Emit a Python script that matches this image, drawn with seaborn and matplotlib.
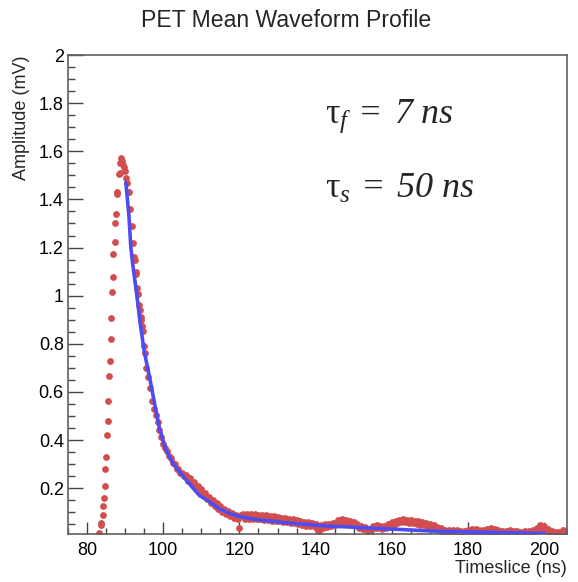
import numpy as np
import pandas as pd
import matplotlib
matplotlib.use("Agg")
import matplotlib.pyplot as plt
import seaborn as sns
from matplotlib.ticker import MultipleLocator, FixedLocator, FixedFormatter

# ---------------- data ----------------
rise_t = [83.16, 83.6, 83.76, 84.13, 84.2, 84.47, 84.74, 84.74, 85.0, 85.26,
          85.53, 85.53, 85.79, 86.05, 86.4, 86.4, 86.66, 86.92, 86.92, 87.29,
          87.45, 87.63, 87.8, 87.97, 88.42, 88.68, 88.76, 89.03, 89.29, 89.55,
          89.82, 90.0, 90.26, 90.6, 90.97, 91.32, 91.76, 92.18, 92.37, 92.55,
          92.82, 92.97, 93.24, 93.42, 93.68, 93.95, 94.13, 94.29, 94.55, 94.82,
          95.0, 95.3, 95.6]
rise_amp = [0.0125, 0.046, 0.054, 0.09, 0.126, 0.161, 0.208, 0.282, 0.329, 0.421,
            0.48, 0.564, 0.665, 0.729, 0.821, 0.908, 1.017, 1.076, 1.172, 1.224,
            1.304, 1.338, 1.421, 1.429, 1.504, 1.55, 1.508, 1.571, 1.56, 1.543,
            1.536, 1.518, 1.49, 1.467, 1.432, 1.362, 1.289, 1.22, 1.16, 1.15,
            1.10, 1.09, 1.03, 1.006, 0.963, 0.942, 0.912, 0.90, 0.875, 0.853,
            0.79, 0.763, 0.70]

# samples every 0.5 ns from 96 ns to 206 ns
tail_start, tail_step = 96.0, 0.5
tail_amp = [
    0.662, 0.618, 0.562, 0.531, 0.503, 0.476, 0.443, 0.414, 0.384, 0.369,
    0.354, 0.333, 0.326, 0.303, 0.299, 0.281, 0.280, 0.264, 0.264, 0.249,
    0.255, 0.231, 0.241, 0.216, 0.227, 0.201, 0.211, 0.186, 0.196, 0.170,
    0.180, 0.154, 0.164, 0.139, 0.150, 0.125, 0.137, 0.113, 0.125, 0.101,
    0.113, 0.092, 0.104, 0.084, 0.096, 0.077, 0.090, 0.072, 0.035, 0.087,
    0.093, 0.073, 0.094, 0.074, 0.092, 0.072, 0.093, 0.073, 0.091, 0.071,
    0.088, 0.068, 0.087, 0.067, 0.085, 0.066, 0.084, 0.064, 0.082, 0.062,
    0.077, 0.059, 0.075, 0.058, 0.073, 0.056, 0.071, 0.054, 0.068, 0.052,
    0.063, 0.047, 0.061, 0.045, 0.058, 0.044, 0.056, 0.042, 0.052, 0.030,
    0.022, 0.048, 0.036, 0.052, 0.040, 0.050, 0.042, 0.055, 0.047, 0.060,
    0.068, 0.054, 0.072, 0.058, 0.070, 0.056, 0.066, 0.052, 0.060, 0.046,
    0.050, 0.036, 0.045, 0.032, 0.040, 0.028, 0.015, 0.030, 0.042, 0.033,
    0.046, 0.034, 0.044, 0.032, 0.045, 0.036, 0.050, 0.040, 0.058, 0.046,
    0.066, 0.054, 0.070, 0.058, 0.072, 0.060, 0.070, 0.057, 0.068, 0.055,
    0.064, 0.050, 0.062, 0.048, 0.060, 0.046, 0.056, 0.042, 0.052, 0.038,
    0.046, 0.032, 0.040, 0.026, 0.034, 0.020, 0.028, 0.016, 0.026, 0.014,
    0.028, 0.016, 0.026, 0.014, 0.024, 0.012, 0.022, 0.014, 0.028, 0.018,
    0.032, 0.018, 0.030, 0.016, 0.028, 0.014, 0.026, 0.016, 0.030, 0.020,
    0.034, 0.018, 0.030, 0.015, 0.026, 0.013, 0.024, 0.012, 0.022, 0.012,
    0.026, 0.014, 0.024, 0.012, 0.022, 0.011, 0.020, 0.012, 0.024, 0.014,
    0.022, 0.013, 0.026, 0.018, 0.036, 0.028, 0.046, 0.034, 0.042, 0.026,
    0.030, 0.016, 0.022, 0.011, 0.018, 0.010, 0.020, 0.012, 0.026, 0.014,
    0.020,
]

fit_t = [90.2, 91.0, 91.5, 92.0, 93.0, 94.0, 95.0, 96.5, 98.0, 99.0,
         100.7, 102.5, 104.2, 106.0, 107.7, 109.5, 112.1, 114.7, 116.5, 118.0,
         120.0, 122.6, 125.0, 128.8, 132.0, 137.5, 142.0, 148.9, 155.0, 162.0,
         167.0, 172.6, 180.0, 188.4, 195.0, 200.0]
fit_amp = [1.47, 1.33, 1.20, 1.13, 1.01, 0.88, 0.77, 0.654, 0.53, 0.45,
           0.36, 0.305, 0.27, 0.235, 0.203, 0.17, 0.145, 0.115, 0.102, 0.092,
           0.083, 0.075, 0.069, 0.063, 0.057, 0.050, 0.044, 0.039, 0.034, 0.029,
           0.025, 0.021, 0.019, 0.016, 0.014, 0.0125]

xtick_vals = [80, 100, 120, 140, 160, 180, 200]
ytick_vals = [0.2, 0.4, 0.6, 0.8, 1.0, 1.2, 1.4, 1.6, 1.8, 2.0]
ytick_labels = ["0.2", "0.4", "0.6", "0.8", "1", "1.2", "1.4", "1.6", "1.8", "2"]

tail_t = tail_start + tail_step * np.arange(len(tail_amp))
pts = pd.DataFrame({"t": np.concatenate([rise_t, tail_t]),
                    "amp": np.concatenate([rise_amp, tail_amp])})
fit = pd.DataFrame({"t": fit_t, "amp": fit_amp})

# ---------------- style ----------------
sns.set_style("ticks")
plt.rcParams["font.family"] = ["Liberation Sans", "DejaVu Sans"]
plt.rcParams["mathtext.fontset"] = "custom"
plt.rcParams["mathtext.rm"] = "Liberation Serif:italic"
plt.rcParams["mathtext.it"] = "Liberation Serif:italic"
plt.rcParams["mathtext.sf"] = "Liberation Serif"

W, H = 578, 582
fig = plt.figure(figsize=(W / 100, H / 100), dpi=100)
L, R, T, B = 68, 567, 55, 534
ax = fig.add_axes([L / W, 1 - B / H, (R - L) / W, (B - T) / H])

sns.scatterplot(data=pts, x="t", y="amp", ax=ax, color="#d24e4e", s=24,
                linewidth=0, zorder=2)
sns.lineplot(data=fit, x="t", y="amp", ax=ax, color="#4c4cf2", lw=2.6,
             zorder=3)

ax.set_xlim(75, 206)
ax.set_ylim(0.01, 2.0)
ax.xaxis.set_major_locator(FixedLocator(xtick_vals))
ax.xaxis.set_minor_locator(MultipleLocator(5))
ax.yaxis.set_major_locator(FixedLocator(ytick_vals))
ax.yaxis.set_major_formatter(FixedFormatter(ytick_labels))
ax.yaxis.set_minor_locator(MultipleLocator(0.05))

ax.set_xlabel("")
ax.set_ylabel("")
for s in ax.spines.values():
    s.set_color("#606060")
    s.set_linewidth(1.2)

ax.tick_params(which="both", direction="in", top=False, right=False,
               color="#444444", width=1.0, labelsize=13, labelcolor="black")
ax.xaxis.set_tick_params(which="major", length=8.6, pad=6)
ax.xaxis.set_tick_params(which="minor", length=4.3)
ax.yaxis.set_tick_params(which="major", length=11, pad=3)
ax.yaxis.set_tick_params(which="minor", length=5.2)

fig.text(286 / W, 1 - 27 / H, "PET Mean Waveform Profile", ha="center",
         va="baseline", fontsize=16.6)
fig.text(567 / W, 1 - 573 / H, "Timeslice (ns)", ha="right", va="baseline",
         fontsize=13)
fig.text(22 / W, 1 - 55 / H, "Amplitude (mV)", ha="center", va="top",
         rotation=90, fontsize=13)

ax.text(142.6, 1.718, r"$\mathsf{τ}_{f}\,=\;7\ ns$", fontsize=26,
        ha="left", va="baseline")
ax.text(142.6, 1.407, r"$\mathsf{τ}_{s}\,=\;50\ ns$", fontsize=26,
        ha="left", va="baseline")

fig.savefig("out.png", dpi=100)
